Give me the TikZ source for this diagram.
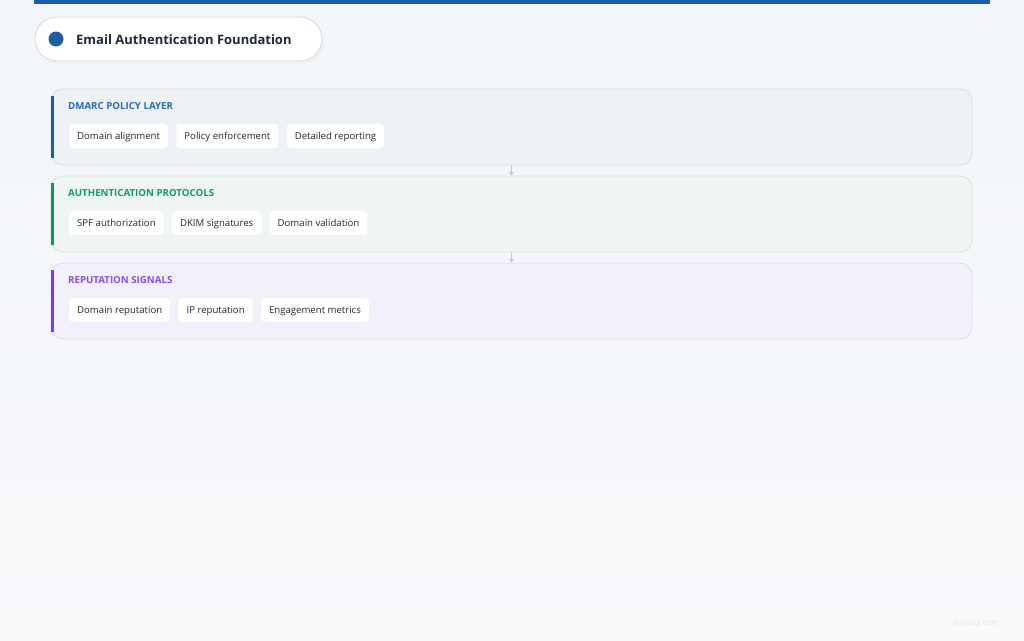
\documentclass[tikz,border=0pt]{standalone}
\usepackage{fontspec}
\setmainfont{Open Sans}
\usetikzlibrary{arrows.meta,positioning}
\definecolor{brandblue}{HTML}{1E5CA3}
\definecolor{inkdark}{HTML}{1F2937}
\definecolor{chipink}{HTML}{23272E}
\definecolor{dmarcfill}{HTML}{EEF2F7}
\definecolor{dmarcline}{HTML}{D5DFEB}
\definecolor{dmarctext}{HTML}{2A6BB5}
\definecolor{authfill}{HTML}{EEF5F3}
\definecolor{authline}{HTML}{D3E7DF}
\definecolor{authbar}{HTML}{0F9466}
\definecolor{authtext}{HTML}{17986A}
\definecolor{repfill}{HTML}{F2F1F9}
\definecolor{repline}{HTML}{DFDAF1}
\definecolor{repbar}{HTML}{7C3AED}
\definecolor{reptext}{HTML}{8A4DEB}
\definecolor{flowgray}{HTML}{C3CAD4}
\definecolor{pillline}{HTML}{D3DAE4}
\begin{document}
\begin{tikzpicture}[x=1pt,y=-1pt,
  layer/.style={draw,rounded corners=12pt,line width=0.8pt,minimum width=921pt,minimum height=76pt,inner sep=0pt},
  layertitle/.style={anchor=west,inner sep=0pt,font=\fontsize{9.7}{11}\selectfont\bfseries},
  chip/.style={fill=white,rounded corners=4pt,text=chipink,text height=8.5pt,text depth=1pt,minimum height=24pt,
    inner xsep=8pt,inner ysep=0pt,font=\fontsize{9.6}{11}\selectfont},
  flow/.style={draw=flowgray,line width=0.8pt,-{Stealth[length=4pt,width=5pt]}}]
  % background
  \shade[top color=white!20!dmarcfill,bottom color=white!60!dmarcfill] (0,0) rectangle (1024,640);
  \useasboundingbox (0,0) rectangle (1024,640);
  \fill[brandblue] (34,0) rectangle (990,4);

  % title pill
  \fill[black!6,rounded corners=22pt] (37,20) rectangle (324,64);
  \node[draw=pillline,fill=white,line width=0.8pt,rounded corners=22pt,minimum width=287pt,minimum height=44pt] (pill) at (178.5,39) {};
  \fill[brandblue] (56,39) circle (7.5pt);
  \node[anchor=west,inner sep=0pt,text=inkdark,font=\fontsize{13}{16}\selectfont\bfseries] (title) at (76,39.5) {Email Authentication Foundation};

  % layers
  \node[layer,draw=dmarcline,fill=dmarcfill] (dmarc) at (511.5,127) {};
  \node[layer,draw=authline,fill=authfill] (auth) at (511.5,214) {};
  \node[layer,draw=repline,fill=repfill] (rep) at (511.5,301) {};

  \fill[brandblue] (51,96) rectangle (54,158);
  \fill[authbar] (51,183) rectangle (54,245);
  \fill[repbar] (51,270) rectangle (54,332);

  \node[layertitle,text=dmarctext] (dmarctitle) at (68,106) {DMARC POLICY LAYER};
  \node[layertitle,text=authtext] (authtitle) at (68,193) {AUTHENTICATION PROTOCOLS};
  \node[layertitle,text=reptext] (reptitle) at (68,280) {REPUTATION SIGNALS};

  \begin{scope}[every node/.style={chip}]
    \node[anchor=west] (align) at (69,136) {Domain alignment};
    \node[right=8pt of align] (enforce) {Policy enforcement};
    \node[right=8pt of enforce] (report) {Detailed reporting};

    \node[anchor=west] (spf) at (69,223) {SPF authorization};
    \node[right=8pt of spf] (dkim) {DKIM signatures};
    \node[right=8pt of dkim] (validate) {Domain validation};

    \node[anchor=west] (domrep) at (69,310) {Domain reputation};
    \node[right=8pt of domrep] (iprep) {IP reputation};
    \node[right=8pt of iprep] (engage) {Engagement metrics};
  \end{scope}

  \path[flow] (dmarc.south) -- (auth.north);
  \path[flow] (auth.south) -- (rep.north);

  \node[text=black!9,font=\fontsize{8}{10}\selectfont] (mark) at (975,623) {skysnag.com};
\end{tikzpicture}
\end{document}
